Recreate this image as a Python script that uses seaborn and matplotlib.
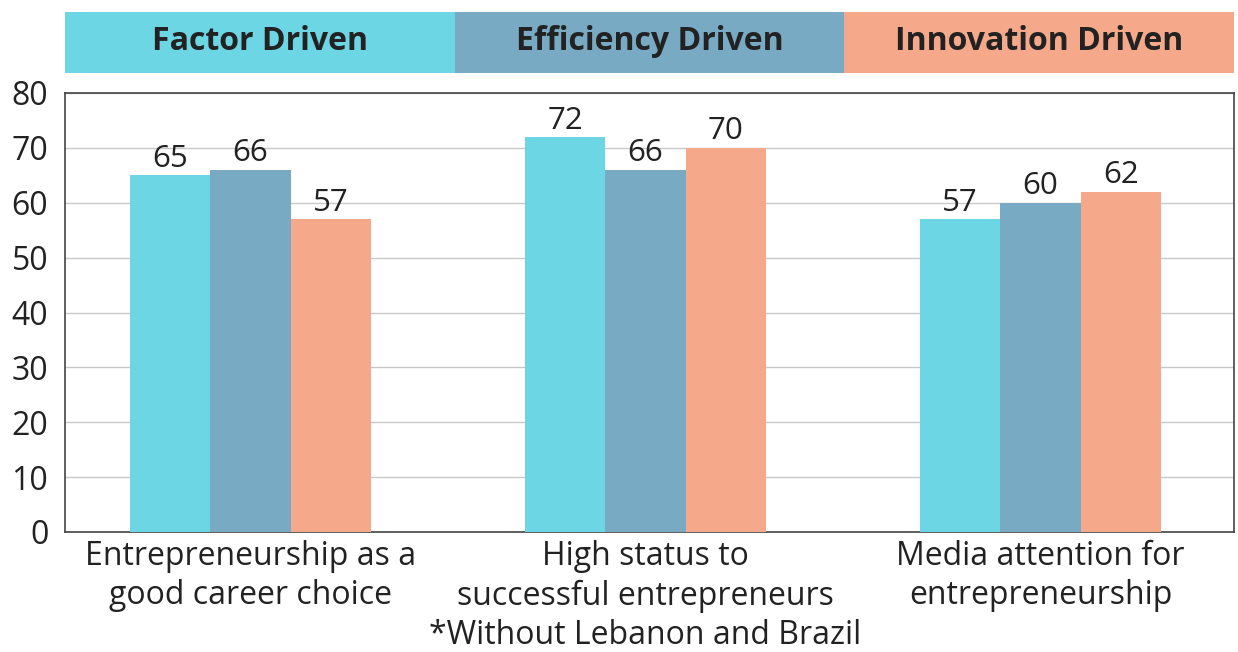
import pandas as pd
import matplotlib.pyplot as plt
import seaborn as sns

categories = [
    "Entrepreneurship as a\ngood career choice",
    "High status to\nsuccessful entrepreneurs\n*Without Lebanon and Brazil",
    "Media attention for\nentrepreneurship",
]
series = ["Factor Driven", "Efficiency Driven", "Innovation Driven"]
factor_vals = [65, 72, 57]
efficiency_vals = [66, 66, 60]
innovation_vals = [57, 70, 62]
colors = ["#6DD6E5", "#78AAC3", "#F5A98A"]
yticks = [0, 10, 20, 30, 40, 50, 60, 70, 80]

sns.set_theme(style="white")
plt.rcParams["font.family"] = ["Open Sans", "DejaVu Sans"]
plt.rcParams["text.color"] = "#222222"

rows = []
for name, vals in zip(series, [factor_vals, efficiency_vals, innovation_vals]):
    for c, v in zip(categories, vals):
        rows.append({"category": c, "series": name, "value": v})
df = pd.DataFrame(rows)

fig = plt.figure(figsize=(12.38, 6.52), dpi=100)
ax = fig.add_axes([65 / 1238, 1 - 532 / 652, 1169 / 1238, 439 / 652])
hax = fig.add_axes([65 / 1238, 1 - 73 / 652, 1169 / 1238, 61 / 652])

sns.barplot(data=df, x="category", y="value", hue="series", palette=colors,
            width=0.61, saturation=1, linewidth=0, ax=ax, legend=False, zorder=3)

for cont in ax.containers:
    ax.bar_label(cont, fontsize=22.5, padding=1, color="#222222")

ax.set_ylim(0, 80)
ax.set_yticks(yticks)
ax.set_xlim(-0.47, 2.49)
ax.grid(axis="y", color="#c8c8c8", linewidth=1, zorder=0)
ax.set_xlabel("")
ax.set_ylabel("")
ax.tick_params(axis="both", labelsize=23, length=0, colors="#222222")
ax.tick_params(axis="x", pad=6)
ax.tick_params(axis="y", pad=12)
for lbl in ax.get_xticklabels():
    lbl.set_linespacing(1.24)
for s in ax.spines.values():
    s.set_color("#444444")
    s.set_linewidth(1.2)

# header strip acting as legend
hax.barh([0, 0, 0], [1, 1, 1], left=[0, 1, 2], color=colors, height=1, linewidth=0)
for i, name in enumerate(series):
    hax.text(i + 0.5, 0.02, name, ha="center", va="center", fontsize=23,
             fontweight="bold", color="#222222")
hax.set_xlim(0, 3)
hax.set_ylim(-0.5, 0.5)
hax.axis("off")

fig.savefig("out.png", dpi=100)
